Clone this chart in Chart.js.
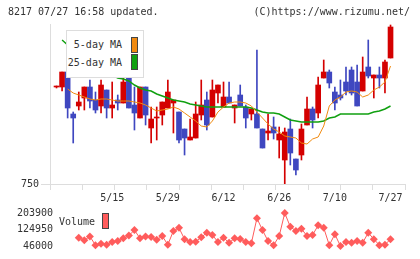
<!DOCTYPE html>
<html>
<head>
<meta charset="utf-8">
<title>8217 daily chart</title>
<script src="https://cdn.jsdelivr.net/npm/chart.js@4.4.1/dist/chart.umd.min.js"></script>
<style>
  html, body { margin: 0; padding: 0; background: #fff; }
  #wrap { position: relative; width: 420px; height: 259px; overflow: hidden;
          font-family: 'DejaVu Sans Mono', monospace; font-size: 10px; line-height: 10px; color: #333; }
  #wrap canvas { position: absolute; left: 0; }
  .txt { position: absolute; white-space: nowrap; }
  .sw { position: absolute; border: 1px solid #444; }
  .box { position: absolute; border: 1px solid #ddd; background: #fff; }
</style>
</head>
<body>
<div id="wrap">
  <canvas id="priceChart" width="420" height="205" style="top:0"></canvas>
  <canvas id="volumeChart" width="420" height="59" style="top:200px"></canvas>
  <div class="txt" style="left:8px; top:7px">8217 07/27 16:58 updated.</div>
  <div class="txt" style="right:10px; top:7px">(C)https://www.rizumu.net/</div>
  <div class="box" style="left:66px; top:30px; width:76px; height:46px"></div>
  <div id="legendItems"></div>
</div>
<script>
// x positions of the date labels (trading-day index) and their text
const tickIdx = [10, 20, 30, 40, 50, 60];
const tickLabels = ['5/15', '5/29', '6/12', '6/26', '7/10', '7/27'];
const priceTicks = [750];
const volumeTicks = [46000, 124950, 203900];

// daily prices, oldest first
const openP = [847, 847, 862, 820, 828, 836, 847, 834, 828, 844,
               826, 834, 831, 859, 829, 816, 847, 806, 816, 819,
               826, 831, 822, 805, 794, 796, 819, 834, 817, 841,
               827, 837, 826, 839, 827, 820, 820, 805, 801, 807,
               794, 774, 805, 775, 779, 809, 825, 821, 856, 862,
               842, 839, 852, 864, 852, 843, 867, 856, 859, 856, 876];
const highP = [848, 862, 862, 822, 842, 847, 854, 842, 854, 844,
               852, 839, 864, 859, 847, 847, 847, 827, 827, 832,
               854, 834, 822, 805, 815, 832, 854, 842, 854, 849,
               852, 852, 829, 849, 829, 825, 884, 805, 820, 817,
               807, 806, 815, 775, 810, 837, 827, 857, 874, 864,
               847, 854, 867, 867, 869, 877, 894, 859, 867, 874, 909];
const lowP = [846, 843, 816, 791, 824, 824, 826, 821, 821, 816,
              816, 824, 831, 826, 804, 816, 809, 791, 794, 809,
              826, 801, 791, 779, 794, 796, 814, 804, 817, 831,
              827, 831, 811, 828, 806, 814, 806, 786, 794, 795,
              776, 750, 769, 759, 774, 809, 806, 816, 856, 846,
              824, 834, 839, 839, 828, 843, 856, 836, 846, 841, 876];
const closeP = [847, 862, 826, 816, 832, 847, 833, 824, 849, 826,
                829, 831, 852, 826, 821, 847, 819, 815, 817, 832,
                842, 834, 794, 796, 797, 820, 829, 809, 844, 849,
                837, 831, 829, 828, 816, 825, 806, 786, 803, 801,
                800, 802, 781, 764, 805, 825, 814, 849, 862, 851,
                831, 836, 843, 841, 828, 862, 858, 859, 856, 872, 907];

// moving averages as drawn on the chart
const ma5 = [null, null, 845, 841, 839, 837, 835, 834, 835, 835,
             834, 833, 833, 833, 832, 831, 829, 826, 823, 824,
             825, 827, 825, 821, 817, 813, 808, 807, 813, 822,
             827, 831, 832, 832, 831, 828, 822, 816, 810, 805,
             802, 798, 797, 796, 791, 790, 795, 797, 808, 828,
             834, 837, 842, 843, 842, 837, 839, 844, 847, 852, 868];
const ma25 = [null, 894, 889, 885, 881, 877, 873, 869, 865, 862,
              859, 856, 855, 853, 849, 846, 844, 843, 840, 838,
              836, 834, 833, 832, 830, 829, 828, 827, 827, 827,
              827, 827, 827, 827, 827, 826, 824, 822, 821, 821,
              820, 817, 814, 813, 812, 812, 812, 812, 813, 816,
              817, 820, 820, 820, 820, 820, 820, 822, 823, 825, 828];

// volume (first days not shown)
const volume = [null, null, null, null, 85500, 73600, 91800, 50000, 56300, 52300,
                65700, 69700, 82700, 95700, 122200, 82700, 91800, 89400, 76000, 93400,
                52300, 118200, 132800, 78800, 65700, 66900, 87800, 109200, 98500, 65700,
                85500, 61800, 82700, 79900, 65700, 59000, 178600, 122200, 69700, 50000,
                93400, 203900, 138000, 118200, 128900, 93400, 98500, 144700, 132800, 50000,
                102400, 46000, 65700, 61800, 69700, 61800, 109200, 78800, 50000, 52300, 78800];

const UP = '#d40000';
const DOWN = '#3f47c0';
const MA5_COLOR = '#f08a10';
const MA25_COLOR = '#10a010';
const VOL_COLOR = '#ff5c5c';

Chart.defaults.font.family = "'DejaVu Sans Mono', monospace";
Chart.defaults.font.size = 10;
Chart.defaults.color = '#333';

const idx = openP.map((_, i) => i);
const candleColor = idx.map(i => closeP[i] >= openP[i] ? UP : DOWN);

/**
 * Price chart: candles built from floating bars, plus the two MA lines
 */
new Chart(document.getElementById('priceChart'), {
    type: 'bar',
    data: {
        datasets: [
            {
                type: 'line',
                label: '5-day MA',
                data: idx.map(i => ({ x: i, y: ma5[i] })),
                borderColor: MA5_COLOR,
                borderWidth: 1,
                pointRadius: 0,
                order: 0
            },
            {
                type: 'line',
                label: '25-day MA',
                data: idx.map(i => ({ x: i, y: ma25[i] })),
                borderColor: MA25_COLOR,
                borderWidth: 1.5,
                pointRadius: 0,
                order: 1
            },
            {
                label: 'body',
                data: idx.map(i => ({ x: i, y: [openP[i], closeP[i]] })),
                backgroundColor: candleColor,
                barThickness: 5,
                minBarLength: 1,
                grouped: false,
                order: 2
            },
            {
                label: 'wick',
                data: idx.map(i => ({ x: i, y: [lowP[i], highP[i]] })),
                backgroundColor: candleColor,
                barThickness: 1,
                grouped: false,
                order: 3
            }
        ]
    },
    options: {
        responsive: false,
        animation: false,
        devicePixelRatio: 1,
        layout: { padding: { top: 24, right: 15, left: 0, bottom: 0 } },
        plugins: { legend: { display: false }, tooltip: { enabled: false } },
        scales: {
            x: {
                type: 'linear', position: 'bottom', min: -1.17, max: 62.6,
                offset: false, weight: 1,
                grid: { display: false, drawTicks: false, offset: false },
                border: { display: false },
                ticks: {
                    padding: 2, maxRotation: 0, autoSkip: false,
                    callback: v => tickLabels[tickIdx.indexOf(v)]
                },
                afterBuildTicks: s => { s.ticks = tickIdx.map(v => ({ value: v })); },
                afterFit: s => { s.height = 15; }
            },
            xt: {
                type: 'linear', position: 'bottom', min: 0, max: 11,
                offset: false, weight: 0,
                ticks: { display: false },
                grid: { drawOnChartArea: false, tickLength: 6, color: '#ddd', offset: false },
                border: { color: '#ddd' },
                afterBuildTicks: s => { s.ticks = Array.from({ length: 12 }, (_, k) => ({ value: k })); },
                afterFit: s => { s.height = 6; }
            },
            y: {
                type: 'linear', min: 750, max: 910,
                grid: { drawOnChartArea: false, tickLength: 9, color: '#ddd' },
                border: { color: '#ddd' },
                ticks: { padding: 2, callback: v => String(v) },
                afterBuildTicks: s => { s.ticks = priceTicks.map(v => ({ value: v })); },
                afterFit: s => { s.width = 50; }
            }
        }
    }
});

/**
 * Volume chart under the price chart
 */
new Chart(document.getElementById('volumeChart'), {
    type: 'line',
    data: {
        datasets: [{
            label: 'Volume',
            data: idx.map(i => ({ x: i, y: volume[i] })),
            borderColor: VOL_COLOR,
            backgroundColor: VOL_COLOR,
            borderWidth: 1,
            pointStyle: 'rectRot',
            pointRadius: 4,
            pointBorderWidth: 0,
            clip: false
        }]
    },
    options: {
        responsive: false,
        animation: false,
        devicePixelRatio: 1,
        layout: { padding: { top: 9.3, bottom: 9.7, right: 15, left: 0 } },
        plugins: { legend: { display: false }, tooltip: { enabled: false } },
        scales: {
            x: { type: 'linear', min: 0.63, max: 62.6, display: false },
            y: {
                min: 46000, max: 203900,
                grid: { display: false, drawTicks: false },
                border: { display: false },
                ticks: { padding: 7, callback: v => String(v) },
                afterBuildTicks: s => { s.ticks = volumeTicks.map(v => ({ value: v })); },
                afterFit: s => { s.width = 60; }
            }
        }
    }
});

// Legends drawn as plain text over the charts
const legendItems = [
    { label: '5-day MA', color: MA5_COLOR, textTop: 40, boxTop: 37, textRight: 298, boxLeft: 131 },
    { label: '25-day MA', color: MA25_COLOR, textTop: 58, boxTop: 54, textRight: 298, boxLeft: 131 },
    { label: 'Volume', color: VOL_COLOR, textTop: 217, boxTop: 213, textLeft: 59, boxLeft: 102 }
];
const holder = document.getElementById('legendItems');
legendItems.forEach(item => {
    const t = document.createElement('div');
    t.className = 'txt';
    t.textContent = item.label;
    t.style.top = item.textTop + 'px';
    if (item.textLeft !== undefined) {
        t.style.left = item.textLeft + 'px';
    } else {
        t.style.right = item.textRight + 'px';
    }
    holder.appendChild(t);

    const b = document.createElement('div');
    b.className = 'sw';
    b.style.left = item.boxLeft + 'px';
    b.style.top = item.boxTop + 'px';
    b.style.width = '5px';
    b.style.height = '14px';
    b.style.background = item.color;
    holder.appendChild(b);
});
</script>
</body>
</html>
